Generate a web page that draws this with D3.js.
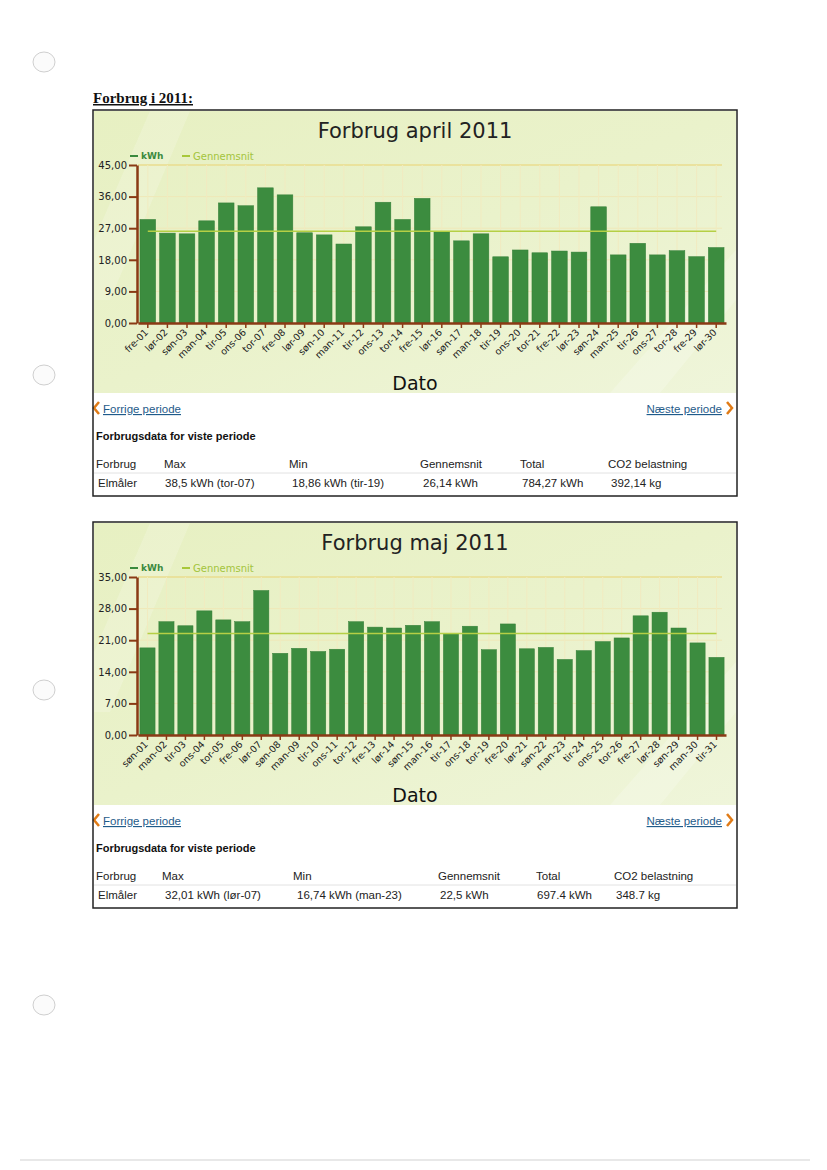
<!DOCTYPE html>
<html><head><meta charset="utf-8">
<script src="https://cdn.jsdelivr.net/npm/d3@7/dist/d3.min.js"></script>
<style>body{margin:0;background:#fff}svg{display:block}</style>
</head><body>
<svg id="page" width="827" height="1170"></svg>
<script>
// ---------- DATA ----------
const aprilDays = ["fre-01","lør-02","søn-03","man-04","tir-05","ons-06","tor-07","fre-08","lør-09","søn-10","man-11","tir-12","ons-13","tor-14","fre-15","lør-16","søn-17","man-18","tir-19","ons-20","tor-21","fre-22","lør-23","søn-24","man-25","tir-26","ons-27","tor-28","fre-29","lør-30"];
const aprilKwh = [29.5,25.6,25.4,29.1,34.2,33.4,38.5,36.5,25.7,25.1,22.5,27.4,34.4,29.5,35.5,26.1,23.4,25.4,18.86,20.8,20.0,20.5,20.2,33.1,19.4,22.7,19.4,20.6,18.9,21.5];
const aprilTicks = [0,9,18,27,36,45];
const aprilAvg = 26.14;
const aprilTable = ["Elmåler","38,5 kWh (tor-07)","18,86 kWh (tir-19)","26,14 kWh","784,27 kWh","392,14 kg"];

const mayDays = ["søn-01","man-02","tir-03","ons-04","tor-05","fre-06","lør-07","søn-08","man-09","tir-10","ons-11","tor-12","fre-13","lør-14","søn-15","man-16","tir-17","ons-18","tor-19","fre-20","lør-21","søn-22","man-23","tir-24","ons-25","tor-26","fre-27","lør-28","søn-29","man-30","tir-31"];
const mayKwh = [19.3,25.1,24.2,27.5,25.5,25.1,32.01,18.1,19.2,18.5,19.0,25.1,23.9,23.7,24.3,25.1,22.5,24.1,18.9,24.6,19.1,19.4,16.74,18.7,20.7,21.5,26.4,27.2,23.7,20.4,17.2];
const mayTicks = [0,7,14,21,28,35];
const mayAvg = 22.5;
const mayTable = ["Elmåler","32,01 kWh (lør-07)","16,74 kWh (man-23)","22,5 kWh","697.4 kWh","348.7 kg"];

const tableHeader = ["Forbrug","Max","Min","Gennemsnit","Total","CO2 belastning"];

// ---------- DRAW ----------
const svg = d3.select("#page");
const defs = svg.append("defs");
const grad = defs.append("linearGradient").attr("id","bg").attr("x1","0").attr("y1","0").attr("x2","1").attr("y2","1");
grad.append("stop").attr("offset","0").attr("stop-color","#e7f0c2");
grad.append("stop").attr("offset","0.5").attr("stop-color","#eaf2cb");
grad.append("stop").attr("offset","1").attr("stop-color","#eff5da");

// page decorations: punch holes and bottom rule
[62,375,690,1005].forEach(y=>{
  svg.append("ellipse").attr("cx",44).attr("cy",y).attr("rx",11).attr("ry",10)
    .attr("fill","#fbfbfb").attr("stroke","#cfcfcf").attr("stroke-width",1);
});
svg.append("line").attr("x1",20).attr("x2",810).attr("y1",1160).attr("y2",1160).attr("stroke","#e8e8e8").attr("stroke-width",2);

svg.append("text").attr("x",93).attr("y",103).text("Forbrug i 2011:")
  .attr("font-family","Liberation Serif, Times New Roman, serif").attr("font-weight","bold")
  .attr("font-size",15).attr("text-decoration","underline").attr("fill","#111");

const fmt = v => d3.format(".2f")(v).replace(".", ",");

function drawChart(off, title, days, kwh, ticks, avg, colX, rowX, rowVals) {
  const g = svg.append("g").attr("transform",`translate(0,${off})`);
  g.append("rect").attr("x",94).attr("y",111).attr("width",642).attr("height",282).attr("fill","url(#bg)");
  g.append("path").attr("d","M150,111 L190,111 L110,300 L94,300 L94,240 Z").attr("fill","#ffffff").attr("opacity",0.18);
  g.append("path").attr("d","M736,250 L736,300 L660,393 L610,393 Z").attr("fill","#ffffff").attr("opacity",0.2);

  g.append("text").attr("x",415).attr("y",138).attr("text-anchor","middle")
    .attr("font-family","DejaVu Sans, Verdana, sans-serif").attr("font-size",21).attr("fill","#222").text(title);

  // legend
  g.append("line").attr("x1",130).attr("x2",138).attr("y1",156).attr("y2",156).attr("stroke","#3b8a3e").attr("stroke-width",2);
  g.append("text").attr("x",141).attr("y",159).text("kWh").attr("font-family","DejaVu Sans, sans-serif").attr("font-size",9).attr("font-weight","bold").attr("fill","#3b8a3e");
  g.append("line").attr("x1",182).attr("x2",190).attr("y1",156).attr("y2",156).attr("stroke","#a8c83a").attr("stroke-width",2);
  g.append("text").attr("x",193).attr("y",160).text("Gennemsnit").attr("font-family","DejaVu Sans, sans-serif").attr("font-size",10).attr("fill","#a3c43c");

  const x = d3.scaleBand().domain(days).range([138,726]).paddingInner(0.2).paddingOuter(0.1);
  const y = d3.scaleLinear().domain([0, ticks[ticks.length-1]]).range([323,165]);

  // grid
  g.append("g").selectAll("line").data(ticks.slice(1)).join("line")
    .attr("x1",138).attr("x2",722).attr("y1",d=>y(d)).attr("y2",d=>y(d))
    .attr("stroke",(d,i)=> i===ticks.length-2 ? "#eadc8e" : "#efe8b8").attr("stroke-width",(d,i)=> i===ticks.length-2 ? 1.5 : 1);
  g.append("g").selectAll("line").data(days).join("line")
    .attr("x1",d=>x(d)+x.bandwidth()/2).attr("x2",d=>x(d)+x.bandwidth()/2)
    .attr("y1",y.range()[1]).attr("y2",y.range()[0]).attr("stroke","#f1ebc0").attr("stroke-width",1);

  // bars
  g.append("g").selectAll("rect").data(days).join("rect")
    .attr("x",d=>x(d)).attr("width",x.bandwidth())
    .attr("y",(d,i)=>y(kwh[i])).attr("height",(d,i)=>y(0)-y(kwh[i]))
    .attr("fill","#3c8c3f").attr("stroke","#357f38").attr("stroke-width",0.5);

  // average
  g.append("line").attr("x1",x(days[0])+x.bandwidth()/2).attr("x2",x(days[days.length-1])+x.bandwidth()/2)
    .attr("y1",y(avg)).attr("y2",y(avg)).attr("stroke","#b5cf45").attr("stroke-width",1.5);

  // axes
  const ya = g.append("g").attr("transform","translate(137,0)")
    .call(d3.axisLeft(y).tickValues(ticks).tickFormat(fmt).tickSize(8).tickSizeOuter(0));
  ya.select(".domain").attr("stroke","#8a3a14").attr("stroke-width",2.5);
  ya.selectAll(".tick line").attr("stroke","#8a3a14").attr("stroke-width",2);
  ya.selectAll("text").attr("font-family","DejaVu Sans, sans-serif").attr("font-size",10).attr("fill","#222").attr("x",-10);

  const xa = g.append("g").attr("transform","translate(0,323)")
    .call(d3.axisBottom(x).tickSize(5).tickSizeOuter(0));
  xa.select(".domain").attr("stroke","#8a3a14").attr("stroke-width",2.5);
  xa.selectAll(".tick line").attr("stroke","#8a3a14").attr("stroke-width",1.5);
  xa.selectAll("text").attr("font-family","DejaVu Sans, sans-serif").attr("font-size",9.5).attr("fill","#222")
    .attr("text-anchor","end").attr("dy",0).attr("y",0)
    .attr("transform","translate(1,10) rotate(-45)");

  g.append("text").attr("x",415).attr("y",390).attr("text-anchor","middle")
    .attr("font-family","DejaVu Sans, Verdana, sans-serif").attr("font-size",19).attr("fill","#111").text("Dato");

  // links
  g.append("path").attr("d","M99,402 L94,408 L99,414").attr("fill","none").attr("stroke","#e07b16").attr("stroke-width",2.5);
  g.append("text").attr("x",103).attr("y",413).text("Forrige periode")
    .attr("font-family","Liberation Sans, Arial, sans-serif").attr("font-size",11.5).attr("fill","#1f5b8a").attr("text-decoration","underline");
  g.append("text").attr("x",722).attr("y",413).attr("text-anchor","end").text("Næste periode")
    .attr("font-family","Liberation Sans, Arial, sans-serif").attr("font-size",11.5).attr("fill","#1f5b8a").attr("text-decoration","underline");
  g.append("path").attr("d","M727,402 L732,408 L727,414").attr("fill","none").attr("stroke","#e07b16").attr("stroke-width",2.5);

  g.append("text").attr("x",96).attr("y",440).text("Forbrugsdata for viste periode")
    .attr("font-family","Liberation Sans, Arial, sans-serif").attr("font-size",11).attr("font-weight","bold").attr("fill","#111");

  g.append("g").selectAll("text").data(tableHeader).join("text")
    .attr("x",(d,i)=>colX[i]).attr("y",468).text(d=>d)
    .attr("font-family","Liberation Sans, Arial, sans-serif").attr("font-size",11.5).attr("fill","#222");
  g.append("line").attr("x1",94).attr("x2",736).attr("y1",473).attr("y2",473).attr("stroke","#e2e2e2");
  g.append("g").selectAll("text").data(rowVals).join("text")
    .attr("x",(d,i)=>rowX[i]).attr("y",487).text(d=>d)
    .attr("font-family","Liberation Sans, Arial, sans-serif").attr("font-size",11.5).attr("fill","#222");

  g.append("rect").attr("x",93).attr("y",110).attr("width",644).attr("height",386)
    .attr("fill","none").attr("stroke","#222").attr("stroke-width",1.5);
}

drawChart(0, "Forbrug april 2011", aprilDays, aprilKwh, aprilTicks, aprilAvg,
  [96,164,289,420,520,608], [98,165,292,423,522,611], aprilTable);
drawChart(412, "Forbrug maj 2011", mayDays, mayKwh, mayTicks, mayAvg,
  [96,162,293,438,536,614], [98,165,297,440,537,616], mayTable);
</script>
</body></html>
